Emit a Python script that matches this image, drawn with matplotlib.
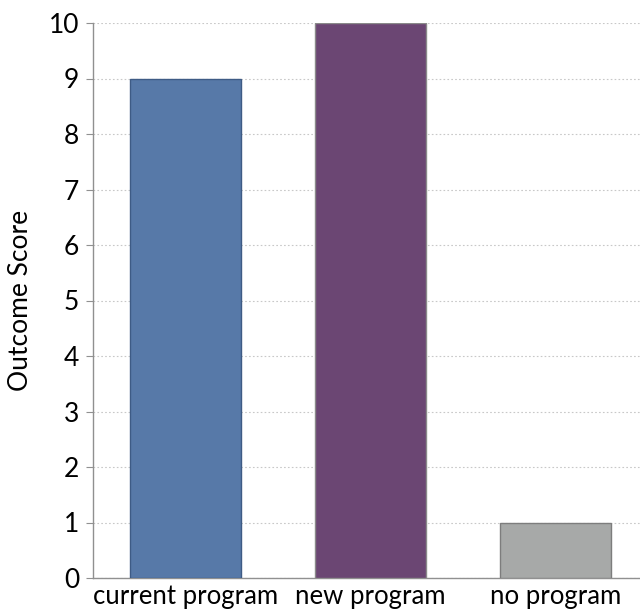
import matplotlib.pyplot as plt

categories = ['current program', 'new program', 'no program']
scores = [9, 10, 1]
bar_colors = ['#5779a8', '#6b4673', '#a7a9a8']
edge_colors = ['#3e5b85', '#8a8a8a', '#7d7d7d']

plt.rcParams['font.family'] = ['Lato', 'DejaVu Sans']

fig = plt.figure(figsize=(6.4, 6.09), dpi=100)
ax = fig.add_axes([93 / 640, 1 - 578 / 609, 555 / 640, 555 / 609])

x = range(len(categories))
ax.bar(x, scores, width=0.6, color=bar_colors, edgecolor=edge_colors, linewidth=1, zorder=3)

ax.set_xlim(-0.5, 2.5)
ax.set_ylim(0, 10)
ax.set_yticks(range(0, 11))
ax.set_xticks(list(x))
ax.set_xticklabels(categories)
ax.tick_params(axis='x', length=0, labelsize=18.5, pad=4)
ax.tick_params(axis='y', length=5, color='#909090', labelsize=19, pad=5)
ax.set_ylabel('Outcome Score', fontsize=19, labelpad=11)

ax.grid(axis='y', linestyle=(0, (1.5, 2)), color='#c8c8c8', linewidth=0.8, zorder=0)
for side in ['top', 'right']:
    ax.spines[side].set_visible(False)
for side in ['left', 'bottom']:
    ax.spines[side].set_color('#909090')
    ax.spines[side].set_linewidth(1)

plt.savefig('out.png', dpi=100)
plt.close()
